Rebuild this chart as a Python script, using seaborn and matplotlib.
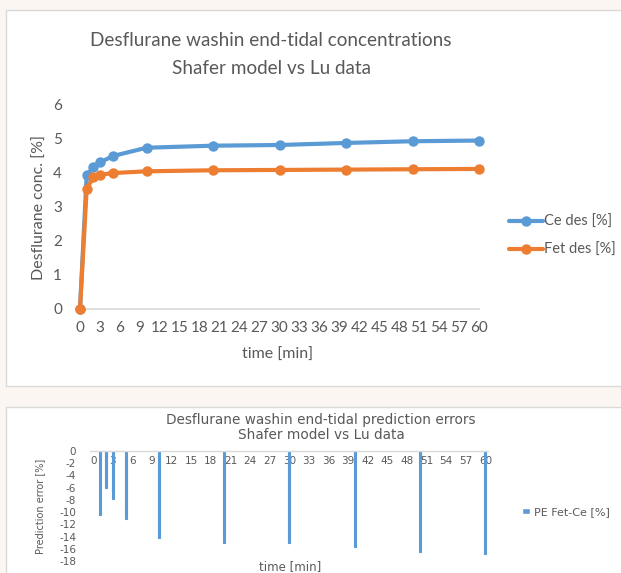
import numpy as np
import pandas as pd
import matplotlib.pyplot as plt
import seaborn as sns
from matplotlib.patches import Rectangle
from matplotlib.lines import Line2D

# washin data
time_min = [0, 1, 2, 3, 5, 10, 20, 30, 40, 50, 60]
ce_des = [0, 3.91, 4.15, 4.29, 4.48, 4.72, 4.78, 4.80, 4.86, 4.91, 4.93]
fet_des = [0, 3.50, 3.87, 3.93, 3.98, 4.03, 4.06, 4.07, 4.08, 4.09, 4.10]

# prediction errors (t=0 undefined)
time_pe = [1, 2, 3, 5, 10, 20, 30, 40, 50, 60]
pe_fet_ce = [-10.4, -6.1, -7.8, -11.1, -14.2, -15.0, -15.1, -15.7, -16.5, -16.8]

series_names = ["Ce des [%]", "Fet des [%]"]
colors = {"Ce des [%]": "#5B9BD5", "Fet des [%]": "#ED7D31"}

df = pd.DataFrame({
    "time": time_min * 2,
    "value": ce_des + fet_des,
    "series": [series_names[0]] * len(time_min) + [series_names[1]] * len(time_min),
})

sns.set_style("white")
plt.rcParams["font.family"] = ["Lato", "DejaVu Sans"]
GRAY = "#595959"

W, H = 621, 573
fig = plt.figure(figsize=(W / 100, H / 100), dpi=100)
fig.patch.set_facecolor("#FBF6F1")

# white chart panels
for (x0, y0, x1, y1) in [(6, 10, 640, 386), (6, 407, 640, 600)]:
    fig.add_artist(Rectangle((x0 / W, 1 - y1 / H), (x1 - x0) / W, (y1 - y0) / H,
                             transform=fig.transFigure, facecolor="white",
                             edgecolor="#D9D9D9", linewidth=1, zorder=0))

# ---------- top chart ----------
ax1 = fig.add_axes([80 / W, 1 - 309 / H, 399 / W, 205 / H])
ax1.patch.set_alpha(0)
sns.lineplot(data=df, x="time", y="value", hue="series", hue_order=series_names,
             palette=colors, marker="o", markersize=7.5, markeredgewidth=0,
             linewidth=3, legend=False, ax=ax1, clip_on=False)
ax1.set_xlim(0, 60)
ax1.set_ylim(0, 6)
ax1.set_xticks(np.arange(0, 61, 3))
ax1.set_yticks(np.arange(0, 7, 1))
for s in ["top", "right", "left"]:
    ax1.spines[s].set_visible(False)
ax1.spines["bottom"].set_color("#D9D9D9")
ax1.spines["bottom"].set_linewidth(1.2)
ax1.spines["bottom"].set_zorder(0)
ax1.tick_params(axis="both", length=0, labelsize=11, colors=GRAY, pad=9)
ax1.tick_params(axis="y", pad=13)
ax1.set_xlabel("")
ax1.set_ylabel("")

fig.text(271 / W, 1 - 40 / H, "Desflurane washin end-tidal concentrations",
         ha="center", va="center", fontsize=13.6, color=GRAY)
fig.text(271 / W, 1 - 68 / H, "Shafer model vs Lu data",
         ha="center", va="center", fontsize=13.6, color=GRAY)
fig.text(278 / W, 1 - 355 / H, "time [min]", ha="center", va="center",
         fontsize=11.5, color=GRAY)
fig.text(40 / W, 1 - 207 / H, "Desflurane conc. [%]", ha="center", va="center",
         rotation=90, fontsize=11.5, color=GRAY)

handles = [Line2D([], [], color=colors[n], lw=3, marker="o", markersize=7.5,
                  markeredgewidth=0) for n in series_names]
fig.legend(handles, series_names, loc="center left",
           bbox_to_anchor=(509 / W, 1 - 236 / H), frameon=False, fontsize=10.5,
           labelcolor=GRAY, handlelength=2.3, handletextpad=0.1,
           labelspacing=1.0, borderpad=0, borderaxespad=0)

# ---------- bottom chart ----------
ax2 = fig.add_axes([90 / W, 1 - 561 / H, 398 / W, 110 / H])
ax2.patch.set_alpha(0)
sns.barplot(x=time_pe, y=pe_fet_ce, native_scale=True, width=0.3,
            color="#5B9BD5", saturation=1, edgecolor="#5B9BD5", linewidth=0.8,
            ax=ax2)
ax2.set_xlim(-0.5, 60.4)
ax2.set_ylim(-18, 0)
ax2.set_xticks(np.arange(0, 61, 3))
ax2.set_xticklabels([str(v) for v in range(0, 61, 3)])
ax2.set_yticks(np.arange(-18, 1, 2))
ax2.set_yticklabels([str(v) for v in range(-18, 1, 2)])
for s in ["bottom", "right", "left"]:
    ax2.spines[s].set_visible(False)
ax2.spines["top"].set_color("#D9D9D9")
ax2.spines["top"].set_linewidth(1)
ax2.tick_params(axis="x", top=False, bottom=False, labeltop=True,
                labelbottom=False, pad=-14, labelsize=7.5, colors=GRAY)
ax2.tick_params(axis="y", length=0, labelsize=7.5, colors=GRAY, pad=10)
ax2.set_xlabel("")
ax2.set_ylabel("")
for t in ax2.get_xticklabels() + ax2.get_yticklabels():
    t.set_family("DejaVu Sans")

fig.text(321 / W, 1 - 420 / H, "Desflurane washin end-tidal prediction errors",
         ha="center", va="center", fontsize=9.8, color=GRAY, family="DejaVu Sans")
fig.text(321 / W, 1 - 435 / H, "Shafer model vs Lu data",
         ha="center", va="center", fontsize=9.8, color=GRAY, family="DejaVu Sans")
fig.text(290 / W, 1 - 567 / H, "time [min]", ha="center", va="center",
         fontsize=8.5, color=GRAY, family="DejaVu Sans")
fig.text(40 / W, 1 - 506 / H, "Prediction error [%]", ha="center", va="center",
         rotation=90, fontsize=7, color=GRAY, family=["Liberation Sans Narrow", "DejaVu Sans"])

pe_handle = [Rectangle((0, 0), 1, 1, facecolor="#5B9BD5")]
fig.legend(pe_handle, ["PE Fet-Ce [%]"], loc="center left",
           bbox_to_anchor=(522 / W, 1 - 512 / H), frameon=False,
           labelcolor=GRAY, handlelength=0.7, handleheight=0.35,
           handletextpad=0.4, borderpad=0, borderaxespad=0,
           prop={"family": "DejaVu Sans", "size": 8})

fig.savefig("out.png", dpi=100)
